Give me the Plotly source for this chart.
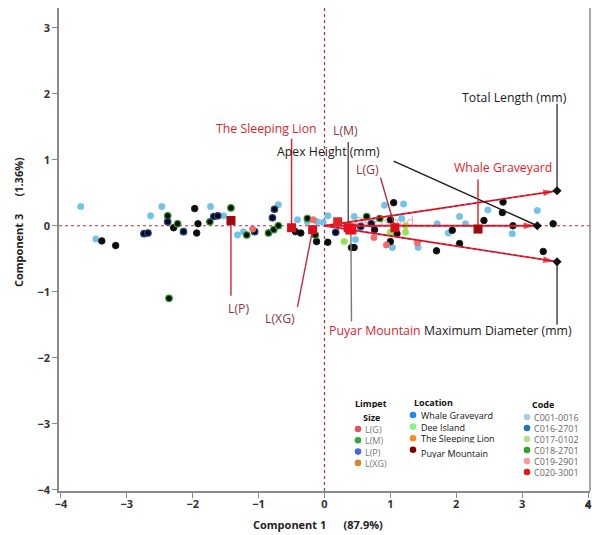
import plotly.graph_objects as go

# ---------------- data ----------------
var_names = ["Total Length (mm)", "Apex Height (mm)", "Maximum Diameter (mm)"]
load_x = [3.53, 3.23, 3.53]
load_y = [0.53, 0.00, -0.545]

grp_names = ["L(P)", "The Sleeping Lion", "L(XG)", "Dee Island", "L(M)",
             "Puyar Mountain", "L(G)", "Whale Graveyard"]
grp_x = [-1.42, -0.50, -0.18, 0.20, 0.36, 0.40, 1.07, 2.33]
grp_y = [0.08, -0.03, -0.06, 0.06, -0.03, -0.05, -0.03, -0.05]

# score points: (component 1, component 3, marker class)
pt_x = [-3.70, -3.47, -3.38, -3.17, -2.74, -2.68, -2.64, -2.47, -2.38, -2.38,
        -2.29, -2.23, -2.14, -2.36, -1.97, -1.94, -1.92, -1.73, -1.74, -1.68,
        -1.62, -1.53, -1.42, -1.32, -1.23, -1.18, -1.09, -1.06, -0.85, -0.77,
        -0.79, -0.76, -0.70, -0.70, -0.41, -0.44, -0.36, -0.26, -0.17, -0.11,
        -0.14, -0.12, 0.05, 0.05, 0.17, 0.30, 0.41, 0.45, 0.45, 0.47,
        0.64, 0.55, 0.71, 0.76, 0.75, 0.84, 0.91, 1.05, 1.20, 1.00,
        1.00, 0.94, 1.03, 1.17, 1.23, 1.41, 1.42, 1.00, 1.70, 1.71,
        1.88, 1.94, 2.05, 2.14, 2.05, 2.42, 2.48, 2.70, 2.71, 2.86,
        2.85, 3.23, 3.47, 3.32, -0.02, 1.10, 1.23, -0.26]
pt_y = [0.29, -0.20, -0.23, -0.30, -0.12, -0.11, 0.15, 0.29, 0.15, 0.06,
        -0.03, 0.03, -0.09, -1.10, 0.26, -0.11, 0.03, 0.29, 0.06, 0.14,
        0.15, 0.15, 0.27, -0.14, -0.09, -0.14, -0.05, -0.09, -0.11, -0.06,
        0.12, 0.25, 0.32, 0.00, 0.09, -0.09, -0.11, 0.11, 0.09, 0.06,
        -0.14, -0.24, 0.15, -0.25, -0.10, -0.24, -0.33, -0.33, 0.14, -0.21,
        0.14, -0.01, 0.03, -0.06, -0.18, 0.11, 0.31, 0.35, 0.33, -0.10,
        -0.24, -0.29, -0.33, 0.11, -0.10, -0.26, -0.33, 0.09, -0.38, 0.03,
        -0.11, -0.07, 0.14, 0.03, -0.27, 0.08, 0.24, 0.20, 0.36, 0.00,
        -0.12, 0.23, 0.03, -0.39, 0.05, -0.12, 0.00, 0.06]
pt_cat = ["lb", "lb", "k", "k", "kb", "kb", "lb", "lb", "kg", "kb",
          "k", "kg", "kb", "kg", "k", "k", "k", "lb", "kg", "kb",
          "kb", "lb", "kg", "lb", "lb", "kg", "pk", "kb", "kg", "kg",
          "kb", "kb", "lb", "kg", "lb", "k", "k", "kg", "pk", "lb",
          "kg", "k", "lb", "k", "kb", "lg", "k", "k", "lb", "lb",
          "kg", "kb", "kb", "k", "pk", "kg", "lb", "k", "lb", "lg",
          "k", "pk", "lb", "lb", "lg", "pk", "lb", "k", "k", "lb",
          "lb", "k", "lb", "lb", "k", "k", "lb", "k", "k", "k",
          "lb", "lb", "k", "k", "lb", "k", "lg", "lb"]

legend_size = ["L(G)", "L(M)", "L(P)", "L(XG)"]
legend_loc = ["Whale Graveyard", "Dee Island", "The Sleeping Lion", "Puyar Mountain"]
legend_code = ["C001-0016", "C016-2701", "C017-0102", "C018-2701", "C019-2901", "C020-3001"]

x_ticks = [-4, -3, -2, -1, 0, 1, 2, 3, 4]
y_ticks = [-4, -3, -2, -1, 0, 1, 2, 3]

# ---------------- layout helpers ----------------
# page pixel geometry (body margin removed by a small post script)
PAGE_W, PAGE_H = 592, 535
P_LEFT, P_RIGHT, P_TOP, P_BOTTOM = 59, 590, 8, 491
W, H = PAGE_W, PAGE_H
ML, MR = P_LEFT, W - P_RIGHT
MT, MB = P_TOP, H - P_BOTTOM
XR = [-4.03, 4.03]
YR = [-4.02, 3.30]
PW, PH = P_RIGHT - P_LEFT, P_BOTTOM - P_TOP


def dx(px):
    return XR[0] + (px - P_LEFT) / PW * (XR[1] - XR[0])


def dy(py):
    return YR[1] - (py - P_TOP) / PH * (YR[1] - YR[0])


def paper_x(px):
    return (px - P_LEFT) / PW


def paper_y(py):
    return (P_BOTTOM - py) / PH


FONT = "Open Sans"
TICKFONT = dict(family=FONT, size=11, color="#333", weight="bold")

# label placement: leader end (data) and label centre (data)
label_pos = {
    "Total Length (mm)": ((3.53, 1.85), (2.89, 1.95)),
    "Apex Height (mm)": ((1.05, 0.98), (0.06, 1.12)),
    "Maximum Diameter (mm)": ((3.53, -1.50), (2.64, -1.59)),
    "L(P)": ((-1.42, -1.06), (-1.30, -1.26)),
    "The Sleeping Lion": ((-0.50, 1.32), (-0.88, 1.48)),
    "L(XG)": ((-0.41, -1.23), (-0.67, -1.41)),
    "L(M)": ((0.36, 1.27), (0.32, 1.44)),
    "Puyar Mountain": ((0.41, -1.45), (0.76, -1.58)),
    "L(G)": ((0.85, 0.73), (0.65, 0.86)),
    "Whale Graveyard": ((2.33, 0.70), (2.71, 0.88)),
}
label_color = {
    "Total Length (mm)": "#1a1a1a", "Apex Height (mm)": "#1a1a1a",
    "Maximum Diameter (mm)": "#1a1a1a",
    "The Sleeping Lion": "#d9262f", "Whale Graveyard": "#d9262f",
    "Puyar Mountain": "#d9262f",
    "L(P)": "#8e3446", "L(XG)": "#8e3446", "L(M)": "#8e3446", "L(G)": "#8e3446",
}
leader_color = {
    "Total Length (mm)": "#3a3a3a", "Apex Height (mm)": "#1a1a1a",
    "Maximum Diameter (mm)": "#3a3a3a",
    "The Sleeping Lion": "#e0202a", "Whale Graveyard": "#e0202a",
    "Puyar Mountain": "#7a7a7a",
    "L(P)": "#c8283c", "L(XG)": "#c8283c", "L(M)": "#5c4848", "L(G)": "#b02a3c",
}
grp_color = {
    "L(P)": "#9e0b0f", "Whale Graveyard": "#9e0b0f", "The Sleeping Lion": "#d8101c",
    "L(XG)": "#d8101c", "Dee Island": "#e0202a", "L(M)": "#e8101c",
    "Puyar Mountain": "#e8101c", "L(G)": "#d8101c",
}
grp_size = {"Puyar Mountain": 11}

cat_style = {
    "lb": dict(color="#74c2e6", line=dict(color="#74c2e6", width=0.5)),
    "k": dict(color="#0a0a0a", line=dict(color="#1a1a1a", width=1)),
    "kg": dict(color="#0a0a0a", line=dict(color="#2a9a2a", width=1.2)),
    "kb": dict(color="#0a0a0a", line=dict(color="#24408f", width=1.2)),
    "pk": dict(color="#f26b6b", line=dict(color="#f26b6b", width=0.5)),
    "lg": dict(color="#98e05a", line=dict(color="#98e05a", width=0.5)),
}

fig = go.Figure()

# faint Dee Island label (drawn under the points)
di = grp_names.index("Dee Island")
fig.add_trace(go.Scatter(x=[dx(355)], y=[grp_y[di] - 0.02], mode="text",
                         text=["Dee Island"], textposition="middle right",
                         textfont=dict(family=FONT, size=12, color="rgba(225,70,70,0.55)"),
                         hoverinfo="skip", showlegend=False))

# score points
for c, st in cat_style.items():
    xs = [x for x, k in zip(pt_x, pt_cat) if k == c]
    ys = [y for y, k in zip(pt_y, pt_cat) if k == c]
    fig.add_trace(go.Scatter(x=xs, y=ys, mode="markers",
                             marker=dict(size=6.5, color=st["color"], line=st["line"]),
                             showlegend=False, hoverinfo="skip"))

# loading rays
for n, lx, ly in zip(var_names, load_x, load_y):
    fig.add_trace(go.Scatter(x=[0, lx], y=[0, ly], mode="lines",
                             line=dict(color="#e8283a", width=1.8),
                             showlegend=False, hoverinfo="skip"))
    fig.add_trace(go.Scatter(x=[0, lx], y=[0, ly], mode="lines",
                             line=dict(color="#a01020", width=1, dash="dot"),
                             showlegend=False, hoverinfo="skip"))

# leaders
for n in list(label_pos.keys()):
    if n in var_names:
        i = var_names.index(n)
        sx, sy = load_x[i], load_y[i]
    else:
        i = grp_names.index(n)
        sx, sy = grp_x[i], grp_y[i]
    (ex, ey), _ = label_pos[n]
    fig.add_trace(go.Scatter(x=[sx, ex], y=[sy, ey], mode="lines",
                             line=dict(color=leader_color[n], width=1.4),
                             showlegend=False, hoverinfo="skip"))

# group means
for n, gx, gy in zip(grp_names, grp_x, grp_y):
    fig.add_trace(go.Scatter(x=[gx], y=[gy], mode="markers",
                             marker=dict(symbol="square", size=grp_size.get(n, 9),
                                         color=grp_color[n], line=dict(width=0)),
                             showlegend=False, hoverinfo="skip"))

# arrow heads + tip diamonds
for n, lx, ly in zip(var_names, load_x, load_y):
    fig.add_trace(go.Scatter(x=[lx * 0.9, lx * 0.985], y=[ly * 0.9, ly * 0.985], mode="markers",
                             marker=dict(symbol="arrow", size=[0, 11], angleref="previous",
                                         color="#d8101c", line=dict(width=0)),
                             showlegend=False, hoverinfo="skip"))
    fig.add_trace(go.Scatter(x=[lx], y=[ly], mode="markers",
                             marker=dict(symbol="diamond", size=7, color="#111111"),
                             showlegend=False, hoverinfo="skip"))

annotations = []
for n, ((ex, ey), (tx, ty)) in label_pos.items():
    annotations.append(dict(x=tx, y=ty, xref="x", yref="y", text=n, showarrow=False,
                            font=dict(family=FONT, size=12.3, color=label_color[n])))

# last x tick label (sits at the very edge of the figure, plotly hides it)
annotations.append(dict(x=x_ticks[-1], y=paper_y(505), xref="x", yref="paper",
                        xanchor="center", yanchor="middle", showarrow=False,
                        text=f"<b>{x_ticks[-1]}</b>", font=TICKFONT))

# axis titles
annotations.append(dict(x=paper_x(318), y=paper_y(524), xref="paper", yref="paper",
                        xanchor="center", yanchor="middle",
                        text="<b>Component 1</b>\u00a0\u00a0\u00a0\u00a0\u00a0\u00a0<b>(87.9%)</b>",
                        showarrow=False, font=dict(family=FONT, size=11, color="#222")))
annotations.append(dict(x=paper_x(18), y=paper_y(222), xref="paper", yref="paper",
                        xanchor="center", yanchor="middle",
                        text="<b>Component 3</b>\u00a0\u00a0\u00a0\u00a0\u00a0\u00a0<b>(1.36%)</b>",
                        textangle=-90, showarrow=False,
                        font=dict(family=FONT, size=11, color="#222")))

shapes = [
    dict(type="line", x0=0, x1=0, y0=0, y1=1, xref="x", yref="paper",
         line=dict(color="#b0303c", width=1.2, dash="dot"), layer="below"),
    dict(type="line", x0=0, x1=1, y0=0, y1=0, xref="paper", yref="y",
         line=dict(color="#b0303c", width=1.2, dash="dot"), layer="below"),
    dict(type="line", x0=1, x1=1, y0=0, y1=1, xref="paper", yref="paper",
         line=dict(color="#8a8a8a", width=1.5)),
]

# legend (drawn manually)
LF = dict(family=FONT, size=9)


def dot(px, py, color):
    shapes.append(dict(type="circle", xref="x", yref="y", xsizemode="pixel", ysizemode="pixel",
                       xanchor=dx(px), yanchor=dy(py), x0=-3.3, x1=3.3, y0=-3.3, y1=3.3,
                       fillcolor=color, line=dict(width=0)))


def txt(px, py, s, color, bold=False, anchor="left"):
    annotations.append(dict(x=dx(px), y=dy(py), xref="x", yref="y",
                            text=f"<b>{s}</b>" if bold else s, showarrow=False,
                            xanchor=anchor, yanchor="middle", height=10, borderpad=0,
                            font=dict(LF, color=color)))


txt(371, 403, "Limpet", "#111", bold=True, anchor="center")
txt(371, 417, "Size", "#111", bold=True, anchor="center")
size_cols = ["#e05464", "#33a845", "#4468dc", "#d08a2e"]
for i, (s, c) in enumerate(zip(legend_size, size_cols)):
    yy = 429 + i * 11.3
    dot(358, yy, c)
    txt(364, yy, s, "#777")

txt(413, 402, "Location", "#111", bold=True)
loc_cols = ["#1e88f0", "#8af08a", "#ff8a20", "#7a0000"]
for i, (s, c) in enumerate(zip(legend_loc, loc_cols)):
    yy = 415 + i * 11.6
    dot(413, yy, c)
    txt(420, yy + (3 if i == 3 else 0), s, "#111")

txt(531, 404, "Code", "#111", bold=True)
code_cols = ["#a6cee3", "#1f78b4", "#b2df8a", "#33a02c", "#fb9a99", "#e31a1c"]
for i, (s, c) in enumerate(zip(legend_code, code_cols)):
    yy = 417 + i * 11
    dot(527, yy, c)
    txt(533, yy, s, "#666")

axis_common = dict(showgrid=False, zeroline=False, showline=True, linecolor="#8a8a8a",
                   linewidth=1.5, ticks="outside", ticklen=5, tickcolor="#8a8a8a",
                   tickfont=TICKFONT, ticklabeloverflow="allow", automargin=False)

fig.update_layout(
    width=W, height=H, margin=dict(l=ML, r=MR, t=MT, b=MB, pad=0),
    paper_bgcolor="white", plot_bgcolor="white",
    xaxis=dict(range=XR, tickvals=x_ticks, ticklabelstandoff=-3, **axis_common),
    yaxis=dict(range=YR, tickvals=y_ticks, **axis_common),
    shapes=shapes, annotations=annotations, showlegend=False,
)

fig.write_html("out.html", config={"displayModeBar": False},
               post_script="document.body.style.margin='0';document.body.style.overflow='hidden';")
